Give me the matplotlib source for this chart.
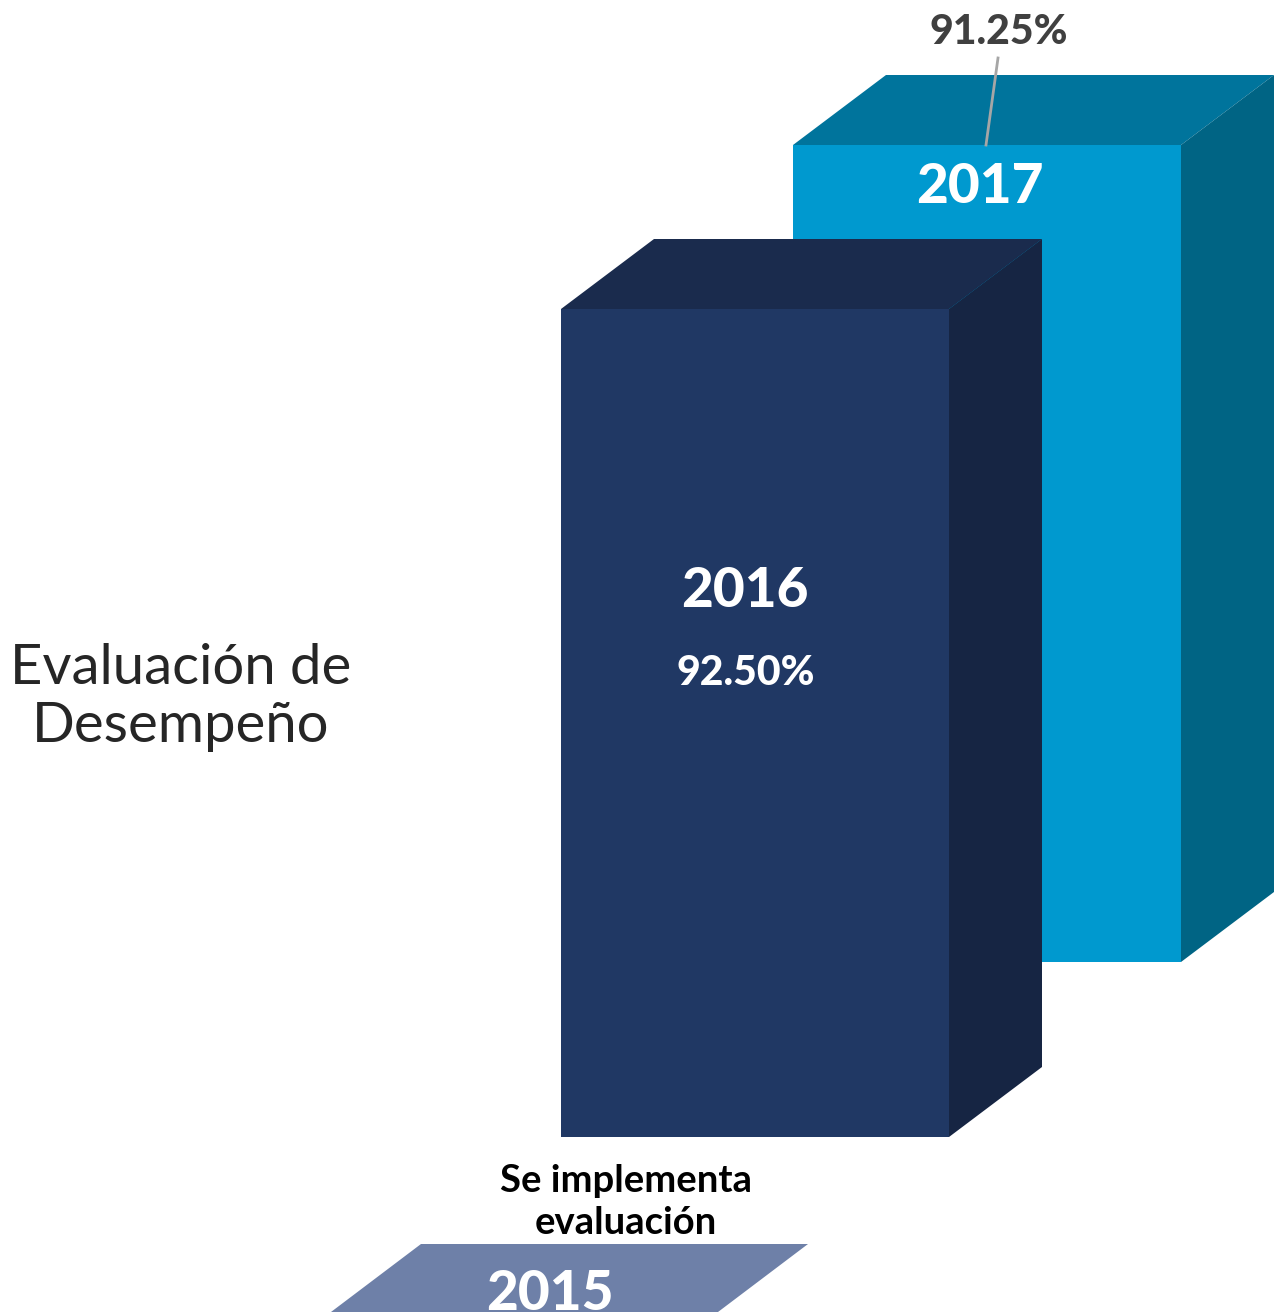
import matplotlib
matplotlib.use('Agg')
import matplotlib.pyplot as plt
from matplotlib.patches import Polygon

plt.rcParams['font.family'] = ['Lato', 'DejaVu Sans']

years = ['2015', '2016', '2017']
scores = [None, '92.50%', '91.25%']
bar_tops = [1244, 309, 145]
bar_bottoms = [1380, 1137, 962]
front_colors = ['#6e80a8', '#203864', '#0099cf']
top_colors = [None, '#1a2b4d', '#00749c']
side_colors = [None, '#162543', '#006484']

W, H = 1279, 1312
fig = plt.figure(figsize=(W / 100, H / 100), dpi=100)
ax = fig.add_axes([0, 0, 1, 1])
ax.set_xlim(0, W)
ax.set_ylim(H, 0)
ax.axis('off')

width = 388
dx, dy = 93, 70


def box(x, top, bottom, front, roof, side):
    ax.add_patch(Polygon([(x, top), (x + width, top), (x + width, bottom), (x, bottom)], fc=front, ec='none'))
    ax.add_patch(Polygon([(x, top), (x + dx, top - dy), (x + width + dx, top - dy), (x + width, top)], fc=roof, ec='none'))
    ax.add_patch(Polygon([(x + width, top), (x + width + dx, top - dy), (x + width + dx, bottom - dy), (x + width, bottom)], fc=side, ec='none'))


# 2015 is only the flat base, cut by the lower edge
ax.add_patch(Polygon([(421, bar_tops[0]), (808, bar_tops[0]), (718, H), (331, H)], fc=front_colors[0], ec='none'))
box(793, bar_tops[2], bar_bottoms[2], front_colors[2], top_colors[2], side_colors[2])
box(561, bar_tops[1], bar_bottoms[1], front_colors[1], top_colors[1], side_colors[1])

# leader line for the 2017 label
ax.plot([998, 986], [58, 145], color='#a6a6a6', lw=2)

ax.text(980, 187, years[2], color='white', fontsize=39.5, fontweight='black', ha='center', va='center')
ax.text(745, 591, years[1], color='white', fontsize=39.5, fontweight='black', ha='center', va='center')
ax.text(550, 1294, years[0], color='white', fontsize=39.5, fontweight='black', ha='center', va='center')
ax.text(999, 32, scores[2], color='#404040', fontsize=29.5, fontweight='black', ha='center', va='center')
ax.text(746, 673, scores[1], color='white', fontsize=29.5, fontweight='black', ha='center', va='center')

ax.text(626, 1181, 'Se implementa', color='black', fontsize=27.5, fontweight='bold', ha='center', va='center')
ax.text(626, 1223, 'evaluación', color='black', fontsize=27.5, fontweight='bold', ha='center', va='center')

ax.text(181, 669, 'Evaluación de', color='#262626', fontsize=40.5, ha='center', va='center')
ax.text(181, 727, 'Desempeño', color='#262626', fontsize=40.5, ha='center', va='center')

fig.savefig('out.png', dpi=100, facecolor='white')
plt.close()
